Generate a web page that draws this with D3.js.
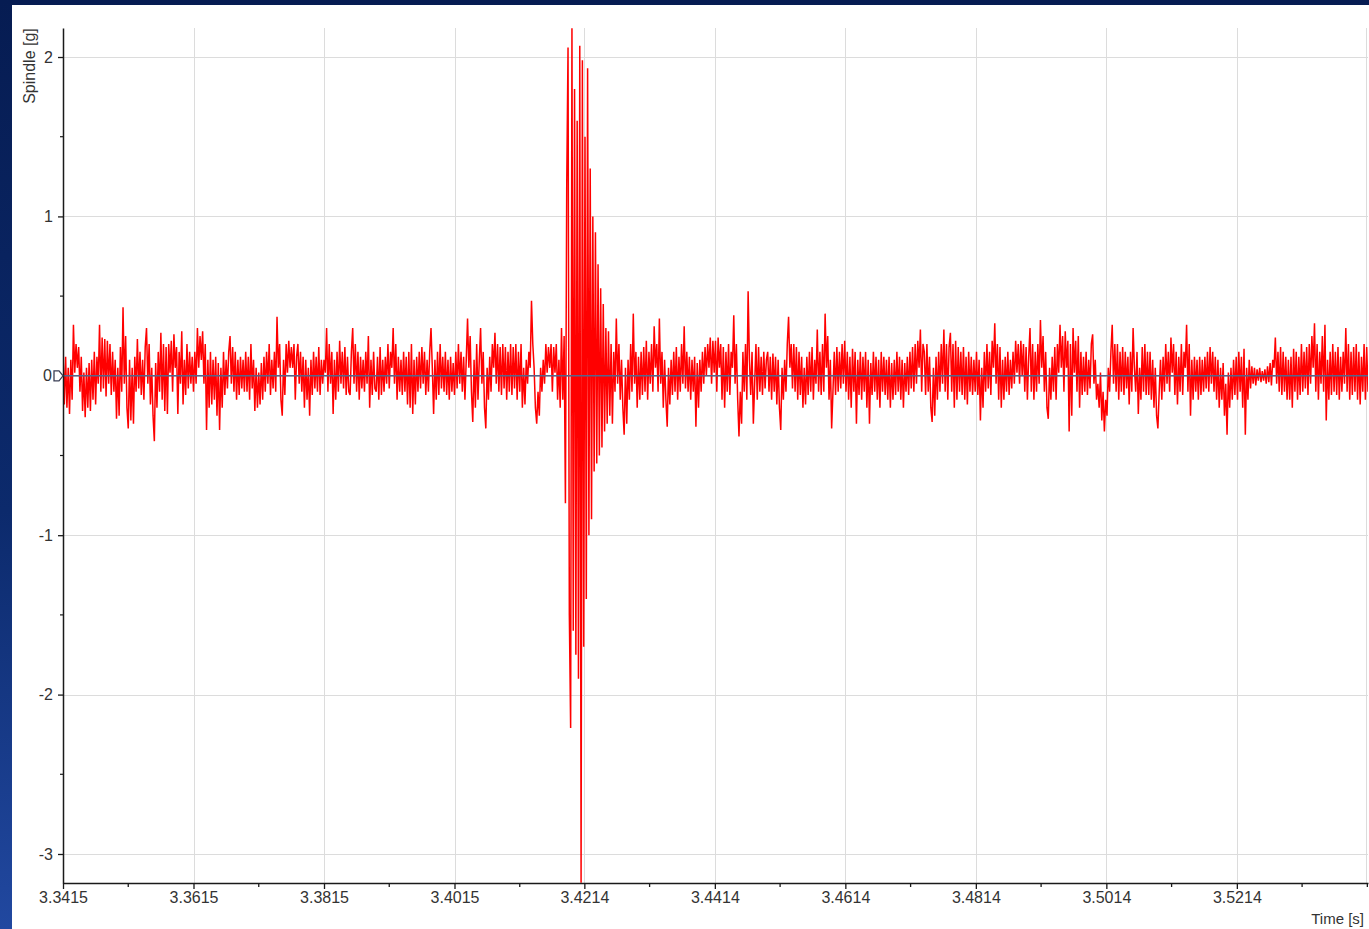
<!DOCTYPE html>
<html>
<head>
<meta charset="utf-8">
<script src="https://cdn.jsdelivr.net/npm/d3@7"></script>
<style>
  html, body { margin: 0; padding: 0; overflow: hidden; background: #071d55; }
  svg { display: block; }
</style>
</head>
<body>
<svg id="chart" width="1369" height="929"></svg>
<script>
// Spindle acceleration record, sampled at a fixed step
const startTime = 3.3415;
const sampleStep = 0.0002;
const spindle = [
  0.15,-0.18,0.12,-0.2,0.05,-0.24,0.1,-0.15,0.32,0.02,0.2,0.05,0.18,-0.1,0.12,-0.22,0.02,-0.26,0.05,-0.2,
  0.08,-0.22,0.1,-0.15,0.15,-0.18,0.12,-0.05,0.32,-0.1,0.24,-0.08,0.23,-0.13,0.22,-0.05,0.2,-0.12,0.15,-0.1,
  0.1,-0.27,0.05,-0.25,0.18,-0.1,0.43,-0.05,0.25,-0.2,-0.33,0.1,-0.28,0.05,-0.3,0.12,-0.1,0.23,-0.08,0.15,
  -0.12,0.1,-0.15,0.18,0.3,-0.05,0.2,-0.18,0.05,-0.25,-0.41,0.08,-0.2,0.15,-0.1,0.27,-0.15,0.2,-0.22,0.18,
  -0.24,0.2,0.02,0.22,-0.1,0.26,0.05,0.18,-0.24,0.15,-0.05,0.28,-0.18,0.1,-0.12,0.2,-0.08,0.15,-0.05,0.12,
  -0.1,0.15,-0.05,0.3,0.05,0.25,0.1,0.28,-0.05,0.2,-0.34,0.1,-0.2,0.15,-0.18,0.1,-0.15,0.12,-0.25,0.08,
  -0.34,0.05,-0.2,0.15,-0.12,0.1,-0.08,0.15,0.25,-0.05,0.18,-0.1,0.15,-0.15,0.1,-0.12,0.12,-0.08,0.1,-0.1,
  0.15,-0.1,0.12,-0.15,0.2,-0.08,0.1,-0.22,0.05,-0.2,0.02,-0.18,0.08,-0.15,0.12,-0.1,0.15,-0.05,0.2,-0.12,
  0.1,-0.08,0.15,-0.1,0.37,0.05,0.2,-0.15,-0.25,0.1,-0.12,0.2,0.02,0.22,0.05,0.18,0.05,0.2,-0.15,0.12,
  0.2,-0.05,0.15,-0.1,0.12,-0.2,0.1,-0.15,0.05,-0.25,0.1,-0.12,0.15,-0.08,0.12,-0.1,0.18,-0.12,0.1,-0.05,
  0.1,0.02,0.3,-0.1,0.2,-0.05,0.15,-0.24,0.1,-0.15,0.15,-0.1,0.22,-0.05,0.15,-0.08,0.18,-0.12,0.12,-0.1,
  -0.12,0.15,0.3,-0.05,0.2,-0.1,0.15,-0.15,0.12,-0.08,0.1,-0.1,0.15,-0.05,0.25,-0.2,0.1,-0.12,0.15,-0.08,
  -0.1,0.12,-0.15,0.18,-0.12,0.1,-0.1,0.12,-0.05,0.2,-0.08,0.15,0.05,0.3,-0.05,0.2,-0.15,0.12,-0.1,0.1,
  -0.12,0.15,-0.1,0.12,-0.18,0.15,-0.2,0.2,-0.24,0.1,-0.18,0.12,-0.1,0.15,-0.08,0.18,-0.05,0.15,-0.12,0.1,
  -0.1,0.15,0.3,0.05,-0.24,0.1,-0.15,0.15,-0.12,0.2,-0.08,0.12,-0.1,0.15,-0.12,0.1,-0.15,0.12,-0.1,0.08,
  -0.12,0.15,-0.08,0.2,-0.05,0.15,-0.1,0.12,-0.15,0.1,0.36,0.05,0.25,-0.1,-0.29,0.1,-0.2,0.2,-0.15,0.1,
  0.3,-0.05,0.15,-0.2,-0.33,0.05,-0.15,0.12,-0.1,0.2,0.05,0.27,-0.05,0.2,-0.1,0.18,-0.12,0.2,-0.08,0.18,
  -0.15,0.15,-0.1,0.2,-0.12,0.18,-0.08,0.2,-0.15,0.15,-0.1,0.2,-0.2,0.05,-0.18,0.1,-0.05,0.15,0.05,0.47,
  0.2,0.05,-0.2,-0.3,-0.1,-0.25,0.05,-0.1,0.1,-0.05,0.2,0.02,0.18,0.05,0.2,-0.1,0.18,0.02,0.2,-0.15,
  0.1,-0.2,0.3,-0.15,0.25,-0.8,1.2,2.06,-1.5,-2.21,2.18,-1.6,1.8,-1.75,1.6,-1.9,2.07,-3.18,1.98,-1.7,
  1.5,-1.4,1.93,-1.0,1.3,-0.9,1.0,-0.6,0.9,-0.55,0.7,-0.5,0.55,-0.45,0.45,-0.35,0.3,-0.3,0.28,-0.25,
  0.2,-0.3,0.15,-0.1,0.36,-0.05,0.2,-0.15,0.1,-0.2,-0.37,0.05,-0.3,0.1,-0.15,0.2,-0.1,0.39,-0.05,0.15,
  -0.2,0.12,-0.15,0.15,-0.12,0.18,-0.1,0.22,-0.15,0.15,-0.05,0.2,-0.1,0.31,0.05,0.2,-0.1,0.36,-0.05,0.15,
  -0.2,0.1,-0.15,-0.32,0.05,-0.18,0.1,-0.12,0.15,-0.1,0.18,-0.15,0.12,-0.1,0.2,-0.05,0.31,-0.08,0.15,-0.1,
  0.12,-0.15,0.1,-0.1,0.12,-0.32,0.08,-0.2,0.1,-0.1,0.15,-0.05,0.18,0.0,0.2,0.05,0.24,-0.05,0.22,0.02,
  0.22,-0.1,0.24,0.05,0.2,-0.15,0.18,-0.2,0.15,-0.1,0.2,-0.12,0.15,0.05,0.38,-0.05,0.2,-0.15,-0.38,-0.1,
  -0.3,0.15,-0.1,0.2,-0.15,0.53,0.1,-0.12,0.15,-0.3,-0.05,0.2,-0.15,0.18,-0.1,0.12,-0.12,0.15,-0.08,0.1,
  0.15,-0.1,0.12,-0.15,0.14,-0.1,0.12,-0.18,0.1,-0.2,-0.34,0.05,-0.15,0.1,-0.1,0.2,0.37,0.05,0.2,-0.08,
  0.2,-0.1,0.18,-0.15,0.15,-0.12,0.12,-0.2,0.05,-0.18,0.12,-0.12,0.15,-0.1,0.18,-0.15,0.1,-0.05,0.29,-0.1,
  0.15,-0.12,0.2,-0.1,0.39,0.05,0.25,-0.15,0.1,-0.33,-0.1,0.15,-0.12,0.18,-0.1,0.15,-0.08,0.2,-0.05,0.22,
  -0.1,0.15,-0.15,0.12,-0.2,0.17,-0.1,0.15,-0.3,0.1,-0.12,0.15,-0.15,0.12,-0.1,0.15,-0.2,0.1,-0.3,0.08,
  -0.12,0.15,-0.1,0.12,-0.15,0.1,-0.2,0.15,-0.1,0.12,-0.12,0.1,-0.15,0.12,-0.2,0.08,-0.15,0.1,-0.12,0.15,
  -0.1,0.12,-0.15,0.1,-0.2,0.08,-0.1,0.12,-0.12,0.15,-0.08,0.18,-0.1,0.2,-0.05,0.22,0.05,0.29,-0.1,0.2,
  0.15,-0.12,0.2,-0.1,0.12,-0.2,-0.29,0.05,-0.25,0.12,-0.15,0.15,-0.1,0.2,-0.05,0.29,-0.1,0.2,-0.15,0.18,
  0.27,-0.1,0.2,-0.2,0.22,-0.15,0.18,-0.1,0.15,-0.12,0.18,-0.15,0.12,-0.18,0.15,-0.1,0.12,-0.12,0.1,-0.1,
  0.15,-0.12,0.1,-0.28,0.05,-0.2,0.15,-0.1,0.2,-0.08,0.15,-0.12,0.22,0.05,0.33,-0.05,0.2,-0.15,0.18,-0.2,
  0.1,-0.15,0.12,-0.1,0.15,-0.12,0.1,-0.08,0.15,-0.05,0.22,0.02,0.2,-0.05,0.22,0.0,0.2,-0.1,0.18,-0.15,
  0.12,0.3,-0.1,0.2,-0.15,0.15,-0.1,0.2,-0.05,0.35,0.05,0.25,-0.1,0.15,-0.2,-0.27,0.05,-0.15,0.12,-0.1,
  0.18,-0.15,0.2,0.02,0.32,0.05,0.25,-0.1,0.28,0.05,0.22,-0.35,0.2,-0.25,0.3,0.02,0.22,-0.1,0.25,-0.2,
  0.15,-0.12,0.12,-0.1,0.15,-0.12,0.1,-0.08,0.2,0.26,-0.05,0.1,-0.15,-0.05,-0.2,0.02,-0.28,-0.1,-0.35,-0.15,
  -0.25,0.05,-0.1,0.15,0.32,-0.05,0.2,-0.1,0.2,-0.15,0.15,-0.1,0.18,-0.12,0.15,-0.08,0.12,-0.18,0.15,-0.1,
  0.3,0.05,-0.1,0.15,-0.24,0.05,-0.15,0.18,-0.1,0.2,-0.12,0.15,-0.12,0.15,-0.15,0.1,-0.2,0.05,-0.25,-0.33,
  -0.1,0.1,-0.15,0.12,-0.1,0.2,-0.05,0.15,-0.1,0.24,0.02,0.2,-0.12,0.15,-0.18,0.12,-0.1,0.2,-0.12,0.15,
  0.05,0.32,-0.1,0.2,-0.25,0.1,-0.15,0.12,-0.1,0.1,-0.15,0.12,-0.12,0.1,-0.1,0.12,-0.08,0.15,-0.1,0.18,
  -0.05,0.15,-0.1,0.12,-0.15,0.1,-0.2,0.05,-0.15,0.08,-0.25,-0.05,-0.37,0.02,-0.2,0.05,-0.15,0.1,-0.12,0.12,
  -0.15,0.15,-0.1,0.12,-0.2,0.17,-0.37,0.05,-0.15,0.1,-0.08,0.06,-0.05,0.05,-0.06,0.04,-0.03,0.05,-0.04,0.03,
  -0.03,0.04,-0.05,0.06,-0.04,0.08,-0.06,0.1,0.05,0.24,-0.05,0.15,-0.1,0.18,-0.12,0.15,-0.1,0.12,-0.15,0.1,
  -0.15,0.12,-0.2,0.17,-0.1,0.15,-0.15,0.12,-0.12,0.2,-0.1,0.15,-0.08,0.18,-0.12,0.2,-0.05,0.25,0.05,0.33,
  -0.1,0.2,-0.15,0.15,-0.05,0.25,-0.1,0.32,-0.28,0.1,-0.15,0.15,-0.12,0.2,-0.1,0.15,-0.12,0.18,-0.15,0.12,
  -0.1,0.15,-0.05,0.3,-0.1,0.2,-0.15,0.15,-0.12,0.18,-0.1,0.2,-0.15,0.15,-0.18,0.12,-0.1,0.2,-0.15,0.18,
  -0.1
];

const xTickValues = [3.3415, 3.3615, 3.3815, 3.4015, 3.4214, 3.4414, 3.4614, 3.4814, 3.5014, 3.5214];
const xTickLabels = ["3.3415", "3.3615", "3.3815", "3.4015", "3.4214", "3.4414", "3.4614", "3.4814", "3.5014", "3.5214"];
const xMinorTicks = [3.3515, 3.3715, 3.3915, 3.4115, 3.4314, 3.4514, 3.4714, 3.4914, 3.5114, 3.5314, 3.5414];
const yTickValues = [2, 1, 0, -1, -2, -3];
const yTickLabels = ["2", "1", "0", "-1", "-2", "-3"];
const yMinorTicks = [1.5, 0.5, -0.5, -1.5, -2.5];
const timeDomain = [3.3415, 3.5415];
const valueDomain = [-3.182, 2.182];

const W = 1369, H = 929;
const plot = { left: 63, right: 1368, top: 28, bottom: 883 };
const FONT = "'Liberation Sans', Arial, sans-serif";

const svg = d3.select("#chart");
const defs = svg.append("defs");

// backdrop gradient
const grad = defs.append("linearGradient").attr("id", "backdrop")
  .attr("x1", 0).attr("y1", 0).attr("x2", 0).attr("y2", 1);
grad.append("stop").attr("offset", "0%").attr("stop-color", "#061c52");
grad.append("stop").attr("offset", "55%").attr("stop-color", "#0c2a6c");
grad.append("stop").attr("offset", "100%").attr("stop-color", "#2148a0");
svg.append("rect").attr("width", W).attr("height", H).attr("fill", "url(#backdrop)");

// white panel
svg.append("rect").attr("x", 12).attr("y", 5).attr("width", W - 12).attr("height", H - 5).attr("fill", "#ffffff");

defs.append("clipPath").attr("id", "plotClip").append("rect")
  .attr("x", plot.left).attr("y", plot.top)
  .attr("width", plot.right - plot.left).attr("height", plot.bottom - plot.top);

const x = d3.scaleLinear().domain(timeDomain).range([plot.left, plot.right]);
const y = d3.scaleLinear().domain(valueDomain).range([plot.bottom, plot.top]);

// grid
const grid = svg.append("g").attr("stroke", "#dcdcdc").attr("stroke-width", 1);
grid.selectAll("line.v").data(xTickValues.slice(1)).join("line")
  .attr("x1", d => Math.round(x(d)) + 0.5).attr("x2", d => Math.round(x(d)) + 0.5)
  .attr("y1", plot.top).attr("y2", plot.bottom);
grid.append("line")
  .attr("x1", plot.right - 1.5).attr("x2", plot.right - 1.5)
  .attr("y1", plot.top).attr("y2", plot.bottom);
grid.selectAll("line.h").data(yTickValues).join("line")
  .attr("x1", plot.left).attr("x2", plot.right)
  .attr("y1", d => Math.round(y(d)) + 0.5).attr("y2", d => Math.round(y(d)) + 0.5);

// signal trace
const series = spindle.map((v, i) => ({ t: startTime + i * sampleStep, v }));
svg.append("path")
  .datum(series)
  .attr("clip-path", "url(#plotClip)")
  .attr("fill", "none")
  .attr("stroke", "#ff0000")
  .attr("stroke-width", 1.5)
  .attr("stroke-linejoin", "bevel")
  .attr("d", d3.line().x(d => x(d.t)).y(d => y(d.v)));

// zero reference line
svg.append("line")
  .attr("x1", plot.left).attr("x2", plot.right)
  .attr("y1", y(0)).attr("y2", y(0))
  .attr("stroke", "#56658c").attr("stroke-width", 1.6);

// x axis
const xAxis = d3.axisBottom(x).tickValues(xTickValues)
  .tickFormat((d, i) => xTickLabels[i]).tickSizeInner(6).tickSizeOuter(0).tickPadding(3);
const gx = svg.append("g").attr("transform", `translate(0,${plot.bottom})`).call(xAxis);
gx.select(".domain").attr("stroke", "#1a1a1a").attr("stroke-width", 1.5);
gx.selectAll(".tick line").attr("stroke", "#1a1a1a").attr("stroke-width", 1.3);
gx.selectAll(".tick text").attr("fill", "#333333").style("font", `16px ${FONT}`);
gx.selectAll("line.minor").data(xMinorTicks).join("line").attr("class", "minor")
  .attr("x1", d => x(d)).attr("x2", d => x(d)).attr("y1", 0).attr("y2", 4)
  .attr("stroke", "#1a1a1a").attr("stroke-width", 1.3);

// y axis
const yAxis = d3.axisLeft(y).tickValues(yTickValues)
  .tickFormat((d, i) => yTickLabels[i]).tickSizeInner(5).tickSizeOuter(0).tickPadding(5);
const gy = svg.append("g").attr("transform", `translate(${plot.left},0)`).call(yAxis);
gy.select(".domain").attr("stroke", "#1a1a1a").attr("stroke-width", 1.5);
gy.selectAll(".tick line").attr("stroke", "#1a1a1a").attr("stroke-width", 1.3);
gy.selectAll(".tick text").attr("fill", "#333333").style("font", `16px ${FONT}`);
gy.selectAll(".tick").filter(d => d === 0).select("text").attr("x", -11);
gy.selectAll(".tick").filter(d => d === 0).select("line").attr("stroke-opacity", 0);
gy.selectAll("line.minor").data(yMinorTicks).join("line").attr("class", "minor")
  .attr("x1", -3).attr("x2", 0).attr("y1", d => y(d)).attr("y2", d => y(d))
  .attr("stroke", "#1a1a1a").attr("stroke-width", 1.2);

// zero-line handle marker
const y0 = y(0);
svg.append("path")
  .attr("d", `M${plot.left - 9},${y0 - 5} L${plot.left - 4},${y0 - 5} L${plot.left},${y0} L${plot.left - 4},${y0 + 5} L${plot.left - 9},${y0 + 5} Z`)
  .attr("fill", "none").attr("stroke", "#3a3f55").attr("stroke-width", 1.3);

// axis titles
svg.append("text")
  .attr("transform", `translate(35,66) rotate(-90)`)
  .attr("text-anchor", "middle")
  .attr("fill", "#333333")
  .style("font", `16px ${FONT}`)
  .text("Spindle [g]");

svg.append("text")
  .attr("x", 1364).attr("y", 924)
  .attr("text-anchor", "end")
  .attr("fill", "#333333")
  .style("font", `15px ${FONT}`)
  .text("Time [s]");
</script>
</body>
</html>
